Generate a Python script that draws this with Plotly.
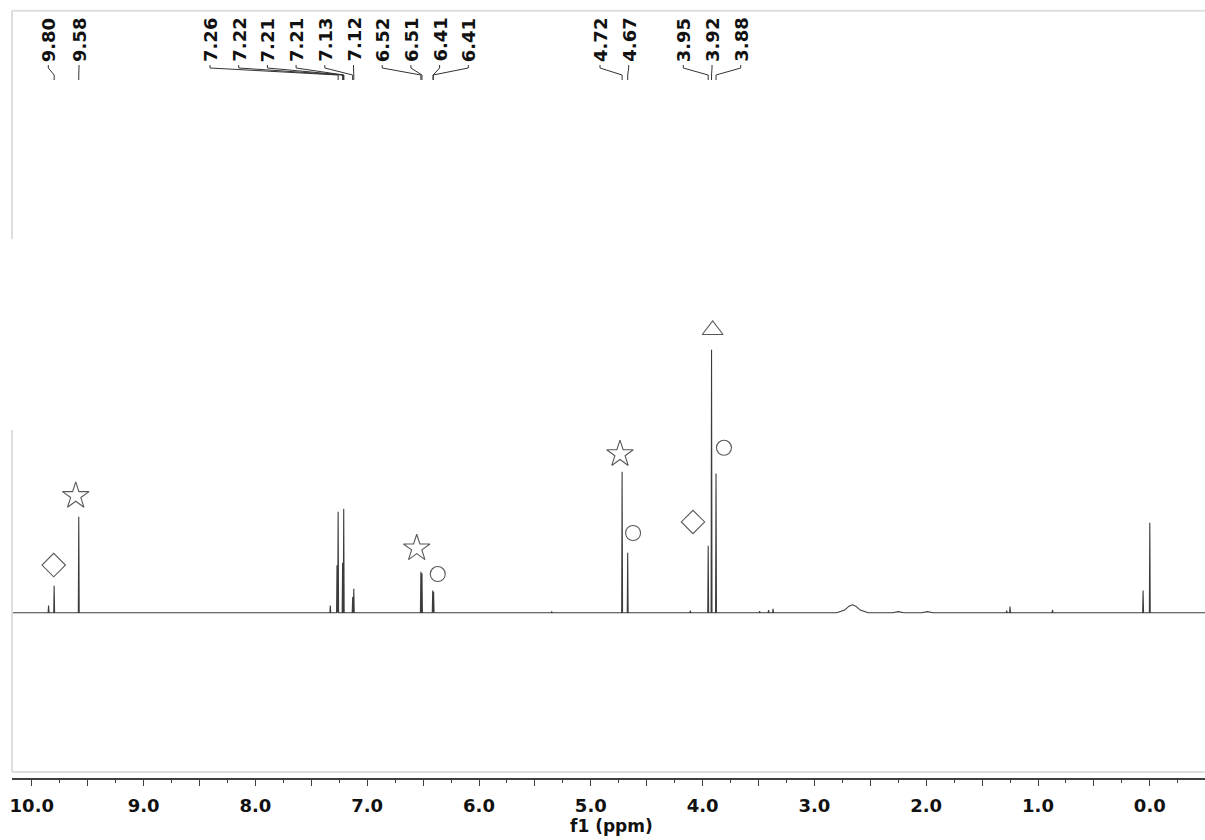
import plotly.graph_objects as go

# ---------------- data ----------------
# sharp resonances: chemical shift (ppm) and relative intensity (tallest = 100)
peak_ppm = [9.85, 9.80, 9.58, 7.33, 7.27, 7.26, 7.22, 7.21, 7.13, 7.12,
            6.52, 6.51, 6.414, 6.406, 5.35, 4.72, 4.67, 4.11, 3.95, 3.92, 3.88,
            3.49, 3.41, 3.37, 1.28, 1.25, 0.87, 0.06, 0.00]
peak_int = [2.7, 10.2, 36.5, 2.7, 18.0, 38.4, 19.0, 39.5, 6.0, 9.1,
            15.6, 15.0, 8.4, 8.0, 0.5, 53.6, 22.8, 0.8, 25.5, 100.0, 52.9,
            0.6, 1.0, 1.5, 0.8, 2.3, 1.1, 8.4, 34.2]

# broad humps (ppm, intensity) traced point by point
broad_ppm = [2.80, 2.73, 2.69, 2.66, 2.63, 2.59, 2.52,
             2.30, 2.25, 2.20, 2.04, 1.99, 1.94]
broad_int = [0.0, 1.0, 2.5, 3.0, 2.5, 1.0, 0.0,
             0.0, 0.4, 0.0, 0.0, 0.4, 0.0]

# peak labels printed at the top
label_text = ["9.80", "9.58", "7.26", "7.22", "7.21", "7.21", "7.13", "7.12",
              "6.52", "6.51", "6.41", "6.41", "4.72", "4.67", "3.95", "3.92", "3.88"]
label_peak = [9.80, 9.58, 7.26, 7.22, 7.21, 7.21, 7.13, 7.12,
              6.52, 6.51, 6.41, 6.41, 4.72, 4.67, 3.95, 3.92, 3.88]

# assignment symbols: symbol, ppm, intensity
sym_kind = ["diamond-open", "star-open", "star-open", "circle-open", "star-open",
            "circle-open", "diamond-open", "triangle-up-open", "circle-open"]
sym_ppm = [9.804, 9.607, 6.557, 6.369, 4.739, 4.622, 4.086, 3.910, 3.809]
sym_int = [18.1, 44.4, 24.5, 14.7, 60.3, 30.3, 34.5, 107.5, 62.7]

tick_vals = [10.0, 9.0, 8.0, 7.0, 6.0, 5.0, 4.0, 3.0, 2.0, 1.0, 0.0]
tick_text = ["10.0", "9.0", "8.0", "7.0", "6.0", "5.0", "4.0", "3.0", "2.0", "1.0", "0.0"]

# ---------------- layout helpers ----------------
W, H = 1205, 840
ML, MR, MT, MB = 12, 0, 11, 62
X0_PX, PX_PER_PPM = 1149.8, 111.8         # pixel of 0 ppm, pixels per ppm
BASE_PX, PX_PER_UNIT = 612.7, 2.63        # baseline pixel, pixels per intensity unit
XR = [(X0_PX - ML) / PX_PER_PPM, (X0_PX - (W - MR)) / PX_PER_PPM]
YR = [(BASE_PX - (H - MB)) / PX_PER_UNIT, (BASE_PX - MT) / PX_PER_UNIT]


def px2ppm(px):
    return (X0_PX - px) / PX_PER_PPM


def py2y(py):
    return (BASE_PX - py) / PX_PER_UNIT


def py2paper(py):
    return (H - MB - py) / (H - MB - MT)


# ---------------- spectrum polyline ----------------
HW = 0.004
pts = [(XR[0], 0.0), (XR[1], 0.0)]
for c, h in zip(peak_ppm, peak_int):
    pts += [(c + HW, 0.0), (c, h), (c - HW, 0.0)]
pts += list(zip(broad_ppm, broad_int))
pts.sort(key=lambda p: -p[0])
spec_x = [p[0] for p in pts]
spec_y = [p[1] for p in pts]

fig = go.Figure()
fig.add_trace(go.Scatter(x=spec_x, y=spec_y, mode="lines",
                         line=dict(color="#3c3c3c", width=1.1),
                         hoverinfo="skip", showlegend=False))

sym_size = {"diamond-open": 18, "star-open": 20, "circle-open": 15,
            "triangle-up-open": 18}
fig.add_trace(go.Scatter(x=sym_ppm, y=sym_int, mode="markers",
                         marker=dict(symbol=sym_kind, size=[sym_size[s] for s in sym_kind],
                                     color="#111111",
                                     line=dict(color="#111111", width=1.1)),
                         hoverinfo="skip", showlegend=False))

# ---------------- peak labels with connector lines ----------------
groups = [(0, 2, 48.3), (2, 12, 210.0), (12, 14, 600.0), (14, 17, 683.3)]
SPACING = 28.7
label_px = []
for a, b, start in groups:
    for k in range(b - a):
        label_px.append(start + k * SPACING)
label_px[1] = 79.0

annotations = []
shapes = []
for txt, lpx, pk in zip(label_text, label_px, label_peak):
    lx = px2ppm(lpx)
    annotations.append(dict(x=lx, y=py2y(64), xref="x", yref="y", text=txt,
                            textangle=-90, showarrow=False, xanchor="center",
                            yanchor="bottom",
                            font=dict(family="DejaVu Sans", size=18, color="#111111",
                                      weight="bold")))
    path = (f"M {lx},{py2y(65)} L {lx},{py2y(68)} L {pk},{py2y(75)} L {pk},{py2y(80)}")
    shapes.append(dict(type="path", xref="x", yref="y", path=path,
                       line=dict(color="#333333", width=1)))

# axis title
annotations.append(dict(x=px2ppm(611.7), y=py2paper(826), xref="x", yref="paper",
                        text="f1 (ppm)", showarrow=False, xanchor="center", yanchor="middle",
                        font=dict(family="DejaVu Sans", size=17, color="#111111",
                                  weight="bold")))

# light gray frame (decoration)
frame = dict(color="#dedede", width=2)
shapes += [
    dict(type="line", xref="paper", yref="paper", x0=0, x1=1, y0=py2paper(10.7), y1=py2paper(10.7), line=frame),
    dict(type="line", xref="paper", yref="paper", x0=0, x1=1, y0=py2paper(772), y1=py2paper(772), line=frame),
    dict(type="line", xref="paper", yref="paper", x0=0, x1=0, y0=py2paper(10.7), y1=py2paper(239), line=frame),
    dict(type="line", xref="paper", yref="paper", x0=0, x1=0, y0=py2paper(430), y1=py2paper(772), line=frame),
]

major_vals = [v / 2 for v in range(20, -1, -1)]
major_text = [tick_text[tick_vals.index(v)] if v in tick_vals else "" for v in major_vals]

fig.update_layout(
    width=W, height=H,
    margin=dict(l=ML, r=MR, t=MT, b=MB, pad=0),
    paper_bgcolor="white", plot_bgcolor="white",
    showlegend=False,
    xaxis=dict(range=XR, showgrid=False, zeroline=False,
               showline=True, linecolor="#404040", linewidth=1.5,
               ticks="outside", ticklen=6, tickwidth=1.3, tickcolor="#404040",
               tickmode="array", tickvals=major_vals, ticktext=major_text,
               ticklabelstandoff=5,
               tickfont=dict(family="DejaVu Sans", size=18, color="#111111", weight="bold"),
               minor=dict(ticks="outside", ticklen=3, tickwidth=1.1, tickcolor="#404040",
                          dtick=0.25, tick0=0, showgrid=False)),
    yaxis=dict(range=YR, visible=False, showgrid=False, zeroline=False),
    annotations=annotations,
    shapes=shapes,
)

fig.write_html("out.html", config={"displayModeBar": False},
               post_script="document.body.style.margin='0px';document.body.style.overflow='hidden';")
